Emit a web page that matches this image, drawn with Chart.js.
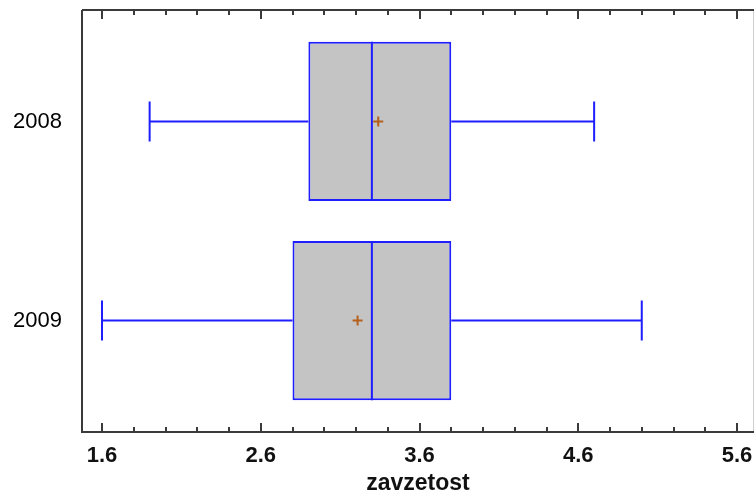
<!DOCTYPE html>
<html>
<head>
<meta charset="utf-8">
<script src="https://cdn.jsdelivr.net/npm/chart.js@4"></script>
<style>
    body { margin: 0; background: #fff; }
    canvas { display: block; }
</style>
</head>
<body>
<canvas id="box-chart" width="755" height="493"></canvas>
<script>
const years = ['2008', '2009'];
const mins = [1.9, 1.6];
const q1s = [2.9, 2.8];
const medians = [3.3, 3.3];
const q3s = [3.8, 3.8];
const maxs = [4.7, 5.0];
const means = [3.34, 3.21];
const xTickValues = [1.6, 2.6, 3.6, 4.6, 5.6];

const BLUE = '#1e1eff';
const FRAME = '#3a3a3a';

// whiskers, median lines, mean markers and the axis frame
const boxExtras = {
    id: 'boxExtras',
    afterDatasetsDraw(chart) {
        const ctx = chart.ctx;
        const xs = chart.scales.x;
        const meta = chart.getDatasetMeta(0);
        ctx.save();
        meta.data.forEach((bar, i) => {
            const { y, height } = bar.getProps(['y', 'height'], true);
            const top = y - height / 2;
            const bottom = y + height / 2;
            const cap = height * 0.125;
            const pMin = xs.getPixelForValue(mins[i]);
            const pQ1 = xs.getPixelForValue(q1s[i]);
            const pQ3 = xs.getPixelForValue(q3s[i]);
            const pMax = xs.getPixelForValue(maxs[i]);
            const pMed = xs.getPixelForValue(medians[i]);
            const pMean = xs.getPixelForValue(means[i]);

            ctx.strokeStyle = BLUE;
            ctx.lineWidth = 2;
            ctx.beginPath();
            ctx.moveTo(pMin, y); ctx.lineTo(pQ1, y);
            ctx.moveTo(pQ3, y); ctx.lineTo(pMax, y);
            ctx.moveTo(pMin, y - cap); ctx.lineTo(pMin, y + cap);
            ctx.moveTo(pMax, y - cap); ctx.lineTo(pMax, y + cap);
            ctx.moveTo(pMed, top); ctx.lineTo(pMed, bottom);
            ctx.stroke();

            ctx.strokeStyle = '#b5601c';
            ctx.beginPath();
            ctx.moveTo(pMean - 5, y); ctx.lineTo(pMean + 5, y);
            ctx.moveTo(pMean, y - 5); ctx.lineTo(pMean, y + 5);
            ctx.stroke();
        });
        ctx.restore();
    },
    afterDraw(chart) {
        const ctx = chart.ctx;
        const a = chart.chartArea;
        const xs = chart.scales.x;
        ctx.save();
        // light right edge
        ctx.strokeStyle = '#cfcfcf';
        ctx.lineWidth = 1;
        ctx.beginPath();
        ctx.moveTo(a.right - 0.5, a.top); ctx.lineTo(a.right - 0.5, a.bottom);
        ctx.stroke();

        ctx.strokeStyle = FRAME;
        ctx.lineWidth = 2;
        ctx.beginPath();
        ctx.moveTo(a.left, a.top); ctx.lineTo(a.right, a.top);
        ctx.moveTo(a.left, a.top); ctx.lineTo(a.left, a.bottom + 1);
        ctx.moveTo(a.left, a.bottom); ctx.lineTo(a.right, a.bottom);
        ctx.stroke();

        // inward tick marks, top and bottom
        for (let k = 0; k <= 20; k++) {
            const v = 1.6 + k * 0.2;
            const px = Math.round(xs.getPixelForValue(v));
            const len = k % 5 === 0 ? 9 : 5;
            ctx.beginPath();
            ctx.moveTo(px, a.top); ctx.lineTo(px, a.top + len);
            ctx.moveTo(px, a.bottom); ctx.lineTo(px, a.bottom - len);
            ctx.stroke();
        }
        ctx.restore();
    }
};

function drawChart() {
    const ctx = document.getElementById('box-chart').getContext('2d');
    new Chart(ctx, {
        type: 'bar',
        data: {
            datasets: [{
                data: years.map((yr, i) => ({ y: i, x: [q1s[i], q3s[i]] })),
                backgroundColor: '#c4c4c4',
                borderColor: BLUE,
                borderWidth: 2,
                borderSkipped: false,
                barPercentage: 0.8,
                categoryPercentage: 1.0,
            }],
        },
        options: {
            indexAxis: 'y',
            responsive: false,
            animation: false,
            layout: { padding: { top: 10, right: 1, left: 0, bottom: 0 } },
            plugins: {
                legend: { display: false },
                tooltip: { enabled: false },
            },
            scales: {
                y: {
                    type: 'linear',
                    reverse: true,
                    offset: false,
                    min: -0.56,
                    max: 1.56,
                    afterBuildTicks: scale => {
                        scale.ticks = years.map((yr, i) => ({ value: i }));
                    },
                    afterFit: scale => {
                        scale.width = 82;
                        scale.paddingTop = 0;
                        scale.paddingBottom = 0;
                    },
                    grid: { display: false, drawTicks: false, offset: false },
                    border: { display: false },
                    ticks: {
                        padding: 20,
                        color: '#000',
                        font: { family: 'Liberation Sans', size: 22 },
                        callback: (v) => years[Math.round(v)],
                    },
                },
                x: {
                    type: 'linear',
                    min: 1.474,
                    max: 5.707,
                    afterBuildTicks: scale => {
                        scale.ticks = xTickValues.map(v => ({ value: v }));
                    },
                    afterFit: scale => {
                        scale.height = 61;
                        scale.paddingLeft = 0;
                        scale.paddingRight = 0;
                    },
                    grid: { display: false, drawTicks: false },
                    border: { display: false },
                    ticks: {
                        padding: 11,
                        maxRotation: 0,
                        autoSkip: false,
                        color: '#111',
                        font: { family: 'Liberation Sans', size: 22, weight: 'bold' },
                        callback: (v) => v.toFixed(1),
                    },
                    title: {
                        display: true,
                        text: 'zavzetost',
                        color: '#111',
                        padding: { top: 0, bottom: -4 },
                        font: { family: 'Liberation Sans', size: 23, weight: 'bold' },
                    },
                },
            },
        },
        plugins: [boxExtras],
    });
}

window.onload = () => {
    drawChart();
};
</script>
</body>
</html>
